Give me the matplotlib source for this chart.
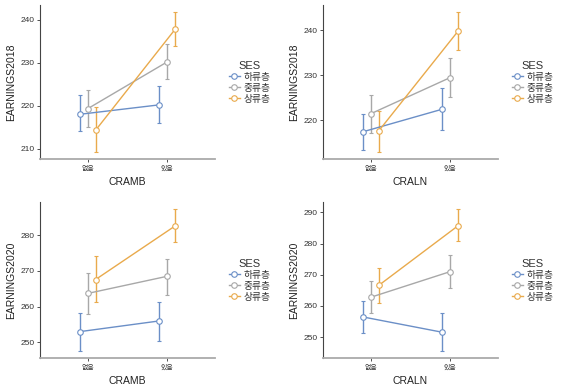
import matplotlib.pyplot as plt
from matplotlib.lines import Line2D
import numpy as np

plt.rcParams['font.family'] = ['Liberation Sans', 'Noto Sans CJK KR', 'DejaVu Sans']

x_labels = ['없음', '있음']
groups = ['하류층', '중류층', '상류층']
colors = ['#6b8fc7', '#a8a8a8', '#e9aa4c']

# each panel: (x label, y label, means[group][level], lower, upper, y ticks)
panels = [
    ('CRAMB', 'EARNINGS2018',
     [[218.0, 220.2], [219.3, 230.2], [214.3, 237.8]],
     [[214.0, 216.0], [215.0, 226.2], [209.2, 233.9]],
     [[222.5, 224.7], [223.7, 234.3], [219.6, 241.8]],
     [210, 220, 230, 240]),
    ('CRALN', 'EARNINGS2018',
     [[217.5, 222.5], [221.5, 229.5], [217.7, 239.8]],
     [[213.5, 217.8], [217.3, 225.2], [213.0, 235.6]],
     [[221.5, 227.3], [225.6, 233.9], [222.0, 244.0]],
     [220, 230, 240]),
    ('CRAMB', 'EARNINGS2020',
     [[253.0, 256.0], [263.7, 268.5], [267.6, 282.6]],
     [[247.5, 250.5], [258.0, 263.4], [261.2, 278.0]],
     [[258.3, 261.4], [269.4, 273.4], [274.1, 287.3]],
     [250, 260, 270, 280]),
    ('CRALN', 'EARNINGS2020',
     [[256.5, 251.6], [262.8, 271.0], [266.6, 285.7]],
     [[251.5, 245.5], [257.7, 265.7], [261.0, 280.7]],
     [[261.5, 257.7], [268.0, 276.2], [272.3, 291.0]],
     [250, 260, 270, 280, 290]),
]

positions = [
    [0.0705, 0.592, 0.3085, 0.395],
    [0.570, 0.592, 0.308, 0.395],
    [0.0705, 0.081, 0.3085, 0.401],
    [0.570, 0.081, 0.308, 0.401],
]

fig = plt.figure(figsize=(5.67, 3.9), dpi=100)
base = np.array([1, 2])
offsets = [-0.1, 0.0, 0.1]

handles = [Line2D([], [], color=c, lw=1.0, marker='o', markersize=4,
                  markerfacecolor='white', markeredgecolor=c, markeredgewidth=0.8)
           for c in colors]

for (xlab, ylab, means, lo, hi, yt), pos in zip(panels, positions):
    ax = fig.add_axes(pos)
    for g in range(3):
        xs = base + offsets[g]
        m = np.array(means[g])
        err = [m - np.array(lo[g]), np.array(hi[g]) - m]
        ax.errorbar(xs, m, yerr=err, color=colors[g], lw=1.0, elinewidth=1.0,
                    capsize=1.5, capthick=0.8, marker='o', markersize=4,
                    markerfacecolor='white', markeredgecolor=colors[g],
                    markeredgewidth=0.8, zorder=3)
    ax.set_xlim(0.4, 2.6)
    ax.margins(y=0.05)
    ax.set_xticks(base)
    ax.set_xticklabels(x_labels, fontsize=5, family=['Noto Sans CJK KR'])
    ax.set_yticks(yt)
    ax.tick_params(axis='y', labelsize=6, length=2, width=0.6, colors='#333333', pad=2)
    ax.tick_params(axis='x', length=2, width=0.6, colors='#333333', pad=2)
    ax.set_xlabel(xlab, fontsize=7.5, color='#222222', labelpad=3)
    ax.set_ylabel(ylab, fontsize=7.5, color='#222222', labelpad=3)
    for s in ['top', 'right']:
        ax.spines[s].set_visible(False)
    ax.spines['left'].set_color('#444444')
    ax.spines['bottom'].set_color('#aaaaaa')
    ax.spines['left'].set_linewidth(0.8)
    ax.spines['bottom'].set_linewidth(1.3)
    leg = ax.legend(handles, groups, title='SES', loc='center left',
                    bbox_to_anchor=(1.03, 0.5), frameon=False, title_fontsize=8,
                    handlelength=1.1, handletextpad=0.4, labelspacing=0.1,
                    prop={'family': ['Noto Sans CJK KR'], 'size': 7})
    for t in leg.get_texts():
        t.set_color('#333333')
    leg.get_title().set_color('#333333')

fig.savefig('out.png', dpi=100, facecolor='white')
